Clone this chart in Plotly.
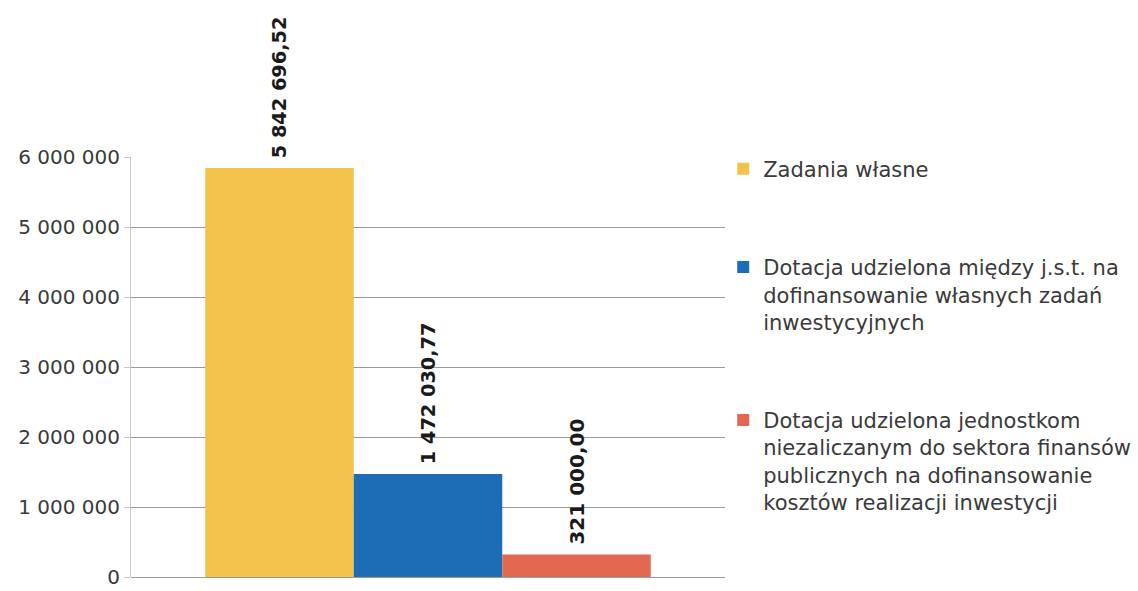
import plotly.graph_objects as go

categories = [""]
series_names = [
    "Zadania własne",
    "Dotacja udzielona między j.s.t. na<br>dofinansowanie własnych zadań<br>inwestycyjnych",
    "Dotacja udzielona jednostkom<br>niezaliczanym do sektora finansów<br>publicznych na dofinansowanie<br>kosztów realizacji inwestycji",
]
series_values = [5842696.52, 1472030.77, 321000.00]
series_colors = ["#F3C24B", "#1C6CB6", "#E2694F"]
tick_values = [0, 1000000, 2000000, 3000000, 4000000, 5000000, 6000000]
tick_labels = ["0", "1 000 000", "2 000 000", "3 000 000", "4 000 000", "5 000 000", "6 000 000"]


def pl_format(v):
    s = f"{v:,.2f}"
    return s.replace(",", " ").replace(".", ",")


FONT = "DejaVu Sans"

fig = go.Figure()
for i, (name, val, col) in enumerate(zip(series_names, series_values, series_colors)):
    fig.add_trace(go.Bar(
        x=categories, y=[val], name=name, marker_color=col,
        marker_line_width=0,
        text=["\u00a0" + pl_format(val)], textposition="outside", textangle=-90,
        textfont=dict(family=FONT, size=20, color="#1a1a1a", weight="bold"),
        cliponaxis=False, legendgroup=f"g{i}",
    ))

fig.update_layout(
    width=1138, height=591,
    margin=dict(l=131, r=413, t=157, b=14, autoexpand=False),
    paper_bgcolor="white", plot_bgcolor="white",
    barmode="group", bargap=0.25, bargroupgap=0,
    font=dict(family=FONT, size=20, color="#3a3a3a"),
    legend=dict(
        x=0.997, y=1.02, xanchor="left", yanchor="top",
        traceorder="grouped", tracegroupgap=68, valign="top",
        font=dict(family=FONT, size=21, color="#3a3a3a"),
        bgcolor="rgba(0,0,0,0)", maxheight=591,
    ),
    showlegend=True,
)
fig.update_yaxes(
    range=[0, 6000000], tickvals=tick_values, ticktext=tick_labels,
    showgrid=True, gridcolor="#9a9a9a", gridwidth=1,
    showline=True, linecolor="#c8c8c8", linewidth=1,
    ticks="outside", ticklen=6, tickcolor="#c8c8c8",
    zeroline=True, zerolinecolor="#9a9a9a", zerolinewidth=1,
    tickfont=dict(family=FONT, size=20, color="#3a3a3a"),
    ticklabeloverflow="allow", automargin=False,
)
fig.update_xaxes(showticklabels=False, showgrid=False, showline=False, zeroline=False, automargin=False)

fig.write_html(
    "out.html",
    config={"displayModeBar": False},
    post_script="document.body.style.margin='0';document.body.style.overflow='hidden';",
)
